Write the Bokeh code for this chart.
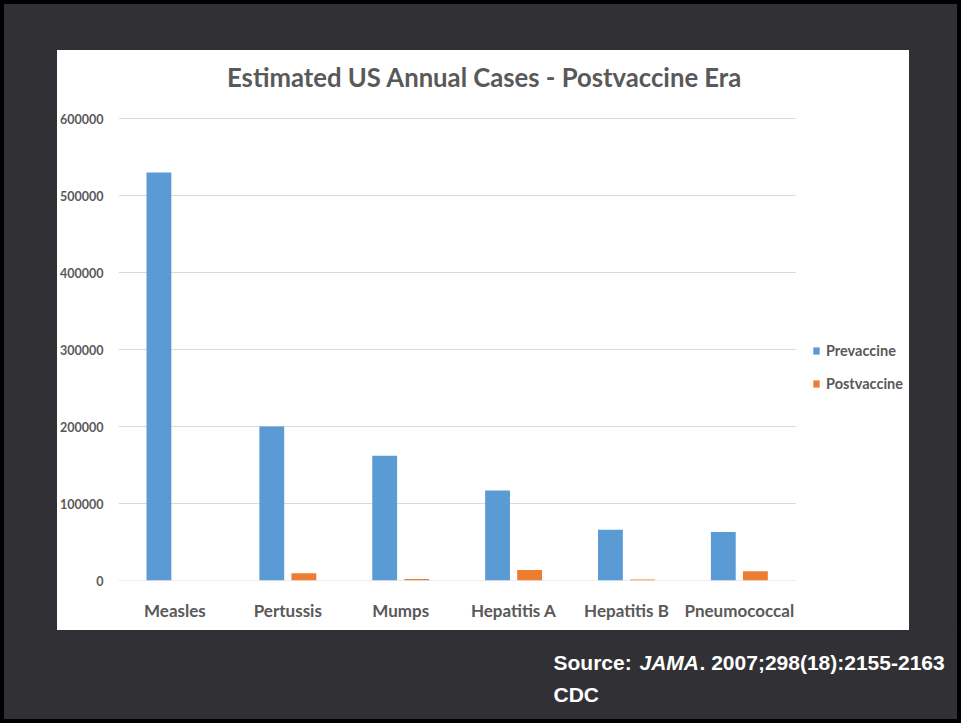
from bokeh.plotting import figure
from bokeh.layouts import column
from bokeh.models import (Range1d, Label, Legend, LegendItem, ColumnDataSource,
                          NumeralTickFormatter, FixedTicker)
from bokeh.transform import dodge
from bokeh.embed import file_html
from bokeh.resources import INLINE

# Estimated US annual cases, before and after routine vaccination
diseases = ["Measles", "Pertussis", "Mumps", "Hepatitis A", "Hepatitis B", "Pneumococcal"]
prevaccine = [530000, 200000, 162000, 117000, 66000, 63000]
postvaccine = [60, 9500, 1800, 13500, 1300, 12000]
y_ticks = [0, 100000, 200000, 300000, 400000, 500000, 600000]

TEXT = "#595959"
FONT = "Lato"
SLIDE_BG = "#313135"

# panel geometry (px inside the white panel)
PANEL_W, PANEL_H = 852, 580
LEFT, BOTTOM = 59, 50            # room for the axes
PLOT_W = 679                     # width taken by the six category slots
Y_TOP_PX = 462                   # height of the 0..600000 span
FRAME_W = PANEL_W - LEFT
FRAME_H = PANEL_H - BOTTOM

n = len(diseases)
centers = [i + 0.5 for i in range(n)]
x_end = n * FRAME_W / PLOT_W
y_end = max(y_ticks) * FRAME_H / Y_TOP_PX

src = ColumnDataSource(dict(x=centers, disease=diseases, pre=prevaccine, post=postvaccine))

p = figure(width=PANEL_W, height=PANEL_H, x_range=Range1d(0, x_end), y_range=Range1d(0, y_end),
           output_backend="svg", toolbar_location=None, title=None, frame_align=False,
           min_border_left=LEFT, min_border_right=0, min_border_top=0,
           min_border_bottom=BOTTOM)
p.border_fill_color = "white"
p.background_fill_color = "white"
p.outline_line_color = None
p.margin = (46, 48, 0, 53)
p.styles = {"background-color": "white"}

# horizontal gridlines across the category area only
p.grid.visible = False
p.segment(x0=0, x1=n, y0=y_ticks, y1=y_ticks, line_color="#D9D9D9", line_width=1)

r_pre = p.vbar(x=dodge("x", -0.142), top="pre", width=0.22,
               source=src, fill_color="#5B9BD5", line_color=None)
r_post = p.vbar(x=dodge("x", 0.142), top="post", width=0.22,
                source=src, fill_color="#ED7D31", line_color=None)

# axes
p.yaxis.ticker = FixedTicker(ticks=y_ticks)
p.yaxis.formatter = NumeralTickFormatter(format="0")
p.xaxis.ticker = FixedTicker(ticks=centers)
p.xaxis.major_label_overrides = {c: d for c, d in zip(centers, diseases)}
for ax in (p.xaxis[0], p.yaxis[0]):
    ax.axis_line_color = None
    ax.major_tick_line_color = None
    ax.minor_tick_line_color = None
    ax.major_label_text_color = TEXT
    ax.major_label_text_font = FONT
    ax.major_label_text_font_style = "bold"
p.yaxis.major_label_text_font_size = "12.5px"
p.yaxis.major_label_standoff = 9
p.xaxis.major_label_text_font_size = "17px"
p.xaxis.major_label_standoff = 13

# chart title, centred on the panel
px_per_x = PLOT_W / n
px_per_y = Y_TOP_PX / max(y_ticks)
p.add_layout(Label(x=(PANEL_W / 2 - LEFT) / px_per_x, y=(FRAME_H - 26) / px_per_y,
                   text="Estimated US Annual Cases - Postvaccine Era",
                   text_font=FONT, text_font_style="bold", text_font_size="25.7px",
                   text_color=TEXT, text_align="center", text_baseline="middle"))

legend = Legend(items=[LegendItem(label="Prevaccine", renderers=[r_pre]),
                       LegendItem(label="Postvaccine", renderers=[r_post])],
                location=(694, 187), padding=0, margin=0, border_line_color=None,
                background_fill_alpha=0, glyph_width=8, glyph_height=9,
                label_height=20, spacing=13, label_standoff=6,
                label_text_font=FONT, label_text_font_style="bold",
                label_text_font_size="14.5px", label_text_color=TEXT)
p.add_layout(legend, "center")

# source note on the slide, in a strip under the panel (y grows downwards)
foot = figure(width=953, height=89, x_range=Range1d(0, 953), y_range=Range1d(89, 0),
              output_backend="svg", toolbar_location=None, title=None, frame_align=False,
              min_border=0, min_border_left=0, min_border_right=0,
              min_border_top=0, min_border_bottom=0)
foot.axis.visible = False
foot.grid.visible = False
foot.outline_line_color = None
foot.background_fill_color = SLIDE_BG
foot.border_fill_color = SLIDE_BG
foot.styles = {"background-color": SLIDE_BG}

SRC_FONT = "Liberation Sans"
for x, txt, style in [(549, "Source: ", "bold"), (635, "JAMA", "bold italic"),
                      (695, ". 2007;298(18):2155-2163", "bold")]:
    foot.add_layout(Label(x=x, y=32, text=txt, text_font=SRC_FONT, text_font_style=style,
                          text_font_size="21px", text_color="white",
                          text_baseline="alphabetic"))
foot.add_layout(Label(x=549, y=64, text="CDC", text_font=SRC_FONT, text_font_style="bold",
                      text_font_size="21px", text_color="white",
                      text_baseline="alphabetic"))

page = column(p, foot, spacing=0,
              styles={"background-color": SLIDE_BG, "border": "4px solid black",
                      "box-sizing": "content-box"})

open("out.html", "w").write(file_html(page, INLINE))
